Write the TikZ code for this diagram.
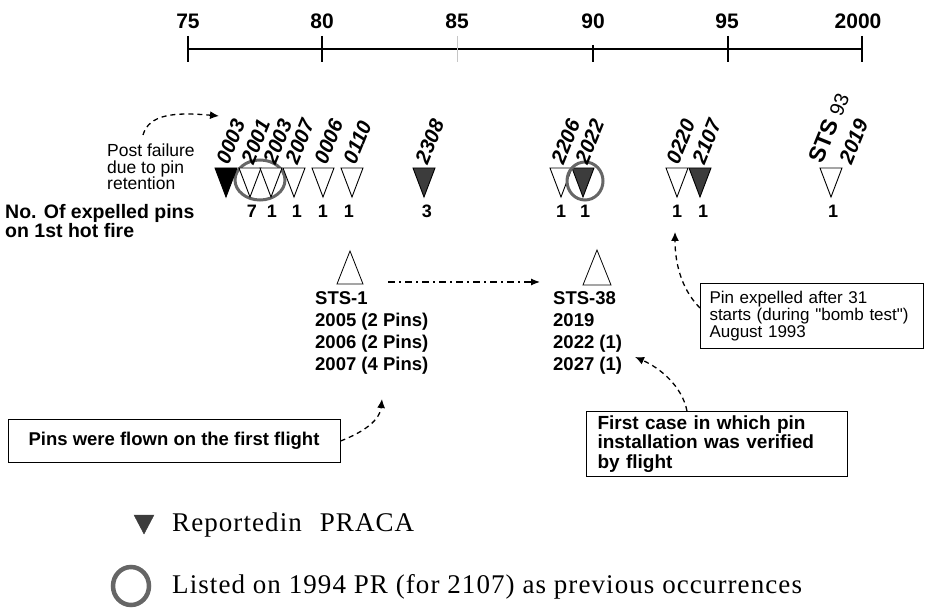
\documentclass[tikz,border=0pt]{standalone}
\usepackage{fontspec}
\setmainfont{Liberation Sans}
\newfontfamily\rawsans[Ligatures=TeXOff]{Liberation Sans}
\newfontfamily\lgfont[LetterSpace=4]{Liberation Serif}
\usetikzlibrary{arrows.meta}
\definecolor{darkfill}{HTML}{3C3C3C}
\definecolor{ringgray}{HTML}{666666}
\newcommand{\downtri}[2]{\draw[tri, fill=#2] ({#1-11},168) -- ({#1+11},168) -- (#1,197) -- cycle;}
\newcommand{\straightquote}{{\rawsans\symbol{34}}}
\begin{document}
\begin{tikzpicture}[x=1pt,y=-1pt,
  yearlbl/.style={font=\fontsize{21}{21}\selectfont\bfseries, anchor=base, inner sep=0pt},
  pinlbl/.style={rotate=68, anchor=west, inner sep=0pt, font=\fontsize{20.5}{20.5}\selectfont\bfseries\itshape},
  cnt/.style={font=\fontsize{18}{18}\selectfont\bfseries, anchor=base, inner sep=0pt},
  infoblk/.style={align=left, anchor=north west, inner sep=0pt, font=\fontsize{18.5}{22}\selectfont\bfseries},
  notebox/.style={draw, line width=1pt},
  dasharrow/.style={line width=1.3pt, dash pattern=on 5pt off 4pt, -{Latex[length=9pt,width=8pt]}},
  ring/.style={draw=ringgray, line width=3pt},
  tri/.style={draw, line width=0.9pt, line join=miter},
]
\useasboundingbox (0,0) rectangle (926,609);

% ---- time axis
\draw[line width=1.4pt] (188,49) -- (862,49);
\foreach \xx in {188,322,728,862} \draw[line width=1.4pt] (\xx,36) -- (\xx,62);
\draw[gray!45, line width=1pt] (457,36) -- (457,62);
\draw[line width=1.2pt] (593,45) -- (593,62);
\node[yearlbl] (y75) at (188,29) {75};
\node[yearlbl] (y80) at (322,29) {80};
\node[yearlbl] (y85) at (457,29) {85};
\node[yearlbl] (y90) at (593,29) {90};
\node[yearlbl] (y95) at (727,29) {95};
\node[yearlbl] (y2000) at (858,29) {2000};

% ---- ring (behind triangles)
\draw[ring] (260,180) ellipse [x radius=25pt, y radius=20pt];

% ---- down triangles
\downtri{226}{black}
\downtri{250}{white}
\downtri{271}{white}
\downtri{294}{white}
\downtri{323}{white}
\downtri{352}{white}
\downtri{424}{darkfill}
\downtri{561}{white}
\downtri{583}{darkfill}
\downtri{677}{white}
\downtri{700}{darkfill}
\downtri{831}{white}

\draw[ring] (585,181) ellipse [x radius=18pt, y radius=19pt];

% ---- rotated serial labels
\node[pinlbl] (l0003) at (222,163) {0003};
\node[pinlbl] (l2001) at (247,163) {2001};
\node[pinlbl] (l2003) at (269,163) {2003};
\node[pinlbl] (l2007) at (291,163) {2007};
\node[pinlbl] (l0006) at (320,163) {0006};
\node[pinlbl] (l0110) at (349,163) {0110};
\node[pinlbl] (l2308) at (421,163) {2308};
\node[pinlbl] (l2206) at (557,163) {2206};
\node[pinlbl] (l2022) at (581,163) {2022};
\node[pinlbl] (l0220) at (672,163) {0220};
\node[pinlbl] (l2107) at (698,163) {2107};
\node[pinlbl, font=\fontsize{23}{23}\selectfont\bfseries] (lsts93) at (815,162) {STS {\fontsize{20}{20}\selectfont\mdseries 93}};
\node[pinlbl] (l2019) at (845,163) {2019};

% ---- counts
\node[cnt] (c2001) at (252,218) {7};
\node[cnt] (c2003) at (272,218) {1};
\node[cnt] (c2007) at (297,218) {1};
\node[cnt] (c0006) at (323,218) {1};
\node[cnt] (c0110) at (349,218) {1};
\node[cnt] (c2308) at (427,218) {3};
\node[cnt] (c2206) at (561,218) {1};
\node[cnt] (c2022) at (585,218) {1};
\node[cnt] (c0220) at (677,218) {1};
\node[cnt] (c2107) at (703,218) {1};
\node[cnt] (c2019) at (833,218) {1};

% ---- left texts
\node[anchor=north west, align=left, inner sep=0pt, font=\fontsize{17.5}{16.5}\selectfont] (postfail) at (107,144) {Post failure\\due to pin\\retention};
\node[anchor=north west, align=left, inner sep=0pt, font=\fontsize{19.5}{19}\selectfont\bfseries] (expelled) at (5,204) {No. Of expelled pins\\on 1st hot fire};
\coordinate (t0003) at (219,116);
\draw[dasharrow] ([xshift=36pt,yshift=9pt]postfail.north west) .. controls (149,114) and (175,112) .. (t0003);

% ---- flights
\draw[tri, line width=0.8pt, fill=white] (350,251) -- (363,284) -- (337,284) -- cycle;
\draw[tri, line width=0.8pt, fill=white] (597,250) -- (611,285) -- (583,285) -- cycle;
\coordinate (dd1) at (388,282);
\coordinate (dd2) at (540,282);
\draw[line width=1.2pt, dash pattern=on 7pt off 4pt on 2pt off 4pt, -{Latex[length=9pt,width=7pt]}] (dd1) -- (dd2);

\node[infoblk] (sts1) at (315,291) {STS-1\\2005 (2 Pins)\\2006 (2 Pins)\\2007 (4 Pins)};
\node[infoblk] (sts38) at (553,291) {STS-38\\2019\\2022 (1)\\2027 (1)};

% ---- note boxes
\node[notebox, minimum width=332pt, minimum height=43pt, inner sep=0pt, font=\fontsize{18.5}{22}\selectfont\bfseries] (pinsbox) at (174,441) {Pins were flown on the first flight};
\coordinate (t2007) at (382,399);
\draw[dasharrow] (pinsbox.east) .. controls (364,432) and (380,420) .. (t2007);

\node[notebox, anchor=north west, minimum height=65pt, text width=239pt, inner xsep=11pt, inner ysep=0pt, align=left, font=\fontsize{19}{19.5}\selectfont\bfseries] (firstbox) at (586,411) {First case in which pin\\installation was verified\\by flight};
\coordinate (t2022) at (635,357);
\draw[dasharrow] ([xshift=101pt]firstbox.north west) .. controls (682,386) and (660,368) .. (t2022);

\node[notebox, anchor=north west, minimum height=65pt, text width=205pt, inner xsep=9pt, inner ysep=0pt, align=left, font=\fontsize{17}{17}\selectfont] (pinexp) at (700,283) {Pin expelled after 31\\starts (during \straightquote bomb test\straightquote)\\August 1993};
\coordinate (t0220) at (675,232);
\draw[dasharrow] ([yshift=8pt]pinexp.west) .. controls (684,292) and (675,268) .. (t0220);

% ---- legend
\draw[draw=darkfill, fill=darkfill] (134,515) -- (154,515) -- (144,534) -- cycle;
\node[anchor=west, inner sep=0pt, font=\lgfont\fontsize{27}{27}\selectfont] (leg1) at (172,525) {Reportedin\hspace{18pt}PRACA};
\draw[ring, line width=4.5pt] (131,586) ellipse [x radius=18pt, y radius=19pt];
\node[anchor=west, inner sep=0pt, font=\lgfont\fontsize{27}{27}\selectfont] (leg2) at (172,587) {Listed on 1994 PR (for 2107) as previous occurrences};
\end{tikzpicture}
\end{document}
